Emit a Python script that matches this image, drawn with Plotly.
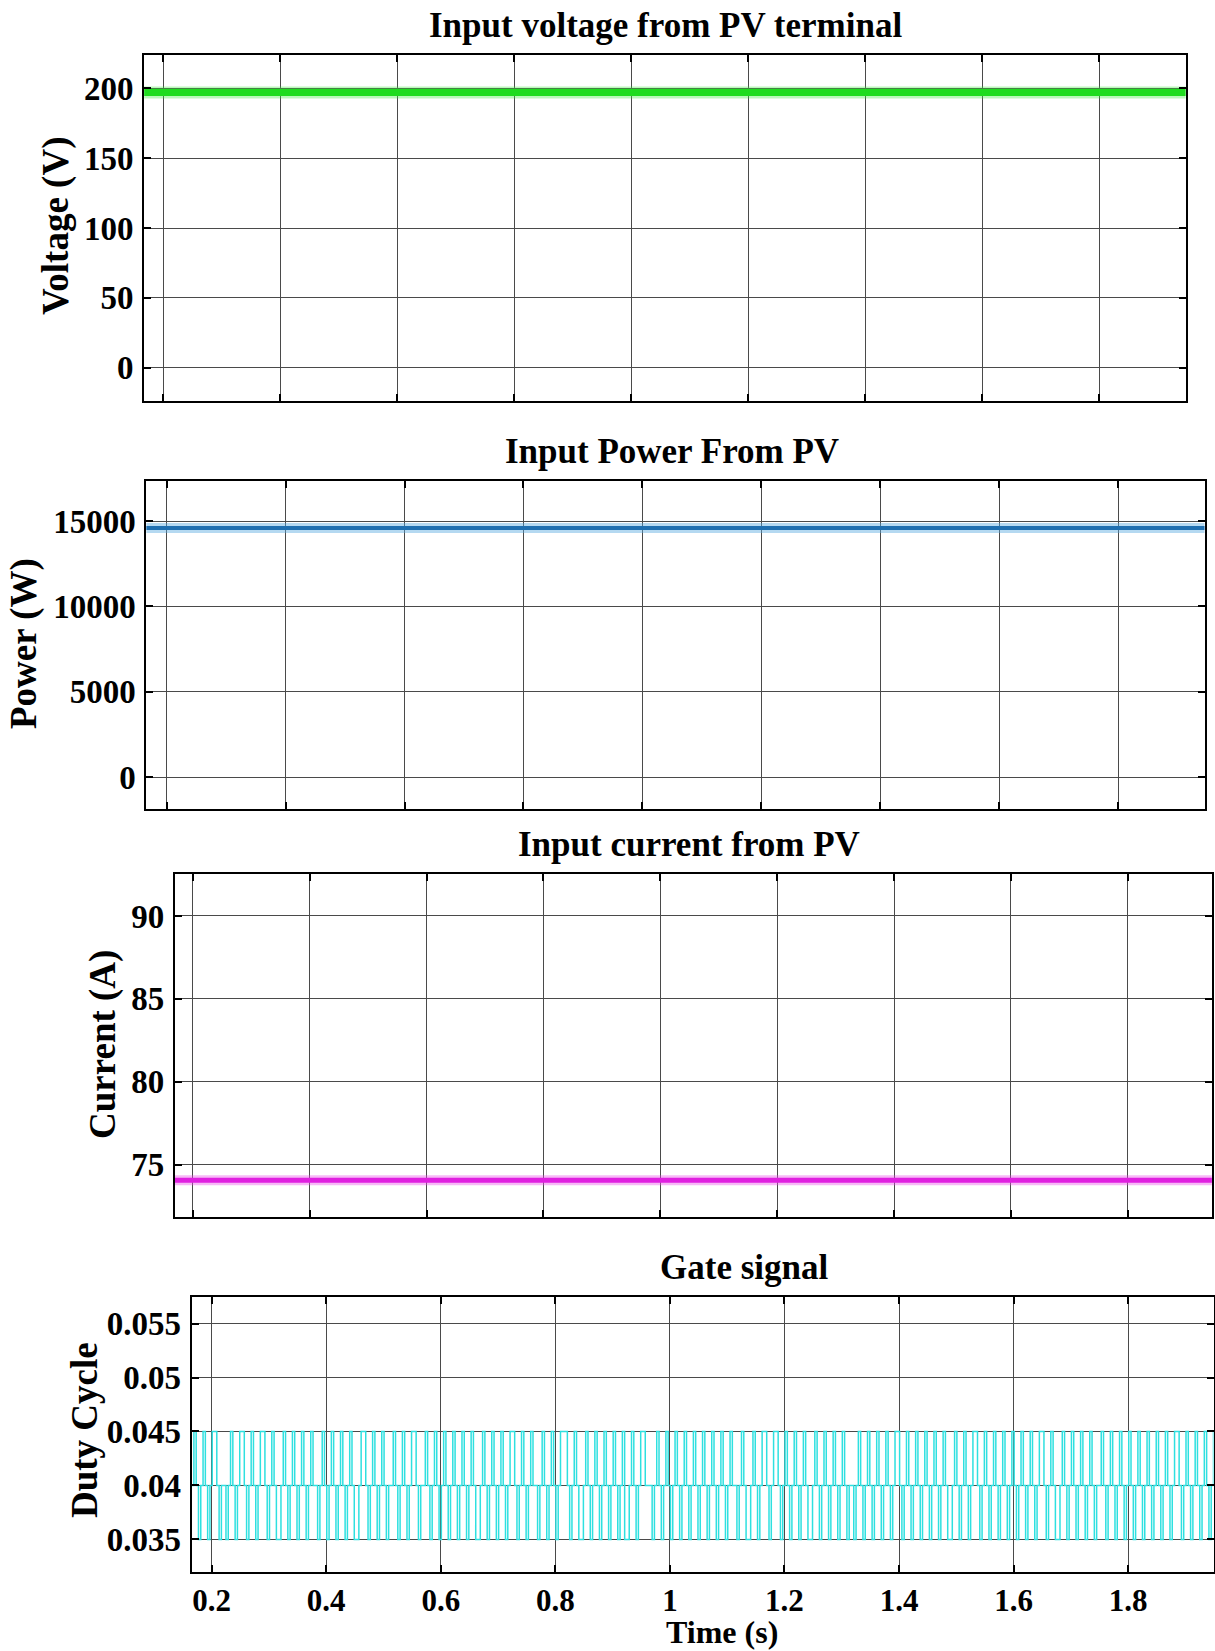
import plotly.graph_objects as go

# ---- data -------------------------------------------------------------
t_span = [0.165, 1.95]                      # simulation window (s)
pv_voltage = [197.0, 197.0]                 # V
pv_power = [14600.0, 14600.0]               # W
pv_current = [74.05, 74.05]                 # A

# duty-cycle levels sampled every gate_dt seconds (0 -> 0.035, 1 -> 0.04, 2 -> 0.045)
gate_t0 = 0.165
gate_dt = 0.004
duty_levels = [0.035, 0.04, 0.045]
gate_codes = [
    "12101210122101101210122101210122101210012101210121",
    "01211012101210121012100122101210121011210121012210",
    "11210121012101210121012100121012101210122101210121",
    "10121012101222101210012101210121012101200121012211",
    "10121012101210121012101210121012101211012100121012",
    "21012210121012101210012101210121012101101210121012",
    "10121012210121012101210121012100121012101221012101",
    "21012101210121012101221012100121012101210121011210",
    "12101210121012101210121012101221012101210121012101",
]

x_ticks = [0.2, 0.4, 0.6, 0.8, 1.0, 1.2, 1.4, 1.6, 1.8]
x_tick_text = ["0.2", "0.4", "0.6", "0.8", "1", "1.2", "1.4", "1.6", "1.8"]

v_ticks = [0, 50, 100, 150, 200]
p_ticks = [0, 5000, 10000, 15000]
i_ticks = [75, 80, 85, 90]
d_ticks = [0.035, 0.04, 0.045, 0.05, 0.055]
d_tick_text = ["0.035", "0.04", "0.045", "0.05", "0.055"]

# ---- build gate trace from the coded level string ----------------------
codes = "".join(gate_codes)
gate_t = [gate_t0 + k * gate_dt for k in range(len(codes))]
gate_d = [duty_levels[int(c)] for c in codes]

FONT = "Liberation Serif, Times New Roman, serif"
W, H = 1215, 1651

fig = go.Figure()

# Input voltage (green band)
fig.add_trace(go.Scatter(x=t_span, y=pv_voltage, mode="lines",
                         line=dict(color="rgba(60,235,60,0.35)", width=12),
                         xaxis="x", yaxis="y", hoverinfo="skip"))
fig.add_trace(go.Scatter(x=t_span, y=pv_voltage, mode="lines",
                         line=dict(color="#1fdc1f", width=7),
                         xaxis="x", yaxis="y"))
# Input power (blue band)
fig.add_trace(go.Scatter(x=t_span, y=pv_power, mode="lines",
                         line=dict(color="rgba(90,170,225,0.45)", width=10),
                         xaxis="x2", yaxis="y2", hoverinfo="skip"))
fig.add_trace(go.Scatter(x=t_span, y=pv_power, mode="lines",
                         line=dict(color="#1f6fb0", width=4),
                         xaxis="x2", yaxis="y2"))
# Input current (magenta band)
fig.add_trace(go.Scatter(x=t_span, y=pv_current, mode="lines",
                         line=dict(color="rgba(235,80,235,0.4)", width=10),
                         xaxis="x3", yaxis="y3", hoverinfo="skip"))
fig.add_trace(go.Scatter(x=t_span, y=pv_current, mode="lines",
                         line=dict(color="#e020e0", width=5),
                         xaxis="x3", yaxis="y3"))
# Gate signal (duty cycle steps)
fig.add_trace(go.Scatter(x=gate_t, y=gate_d, mode="lines",
                         line=dict(color="#2ee0e0", width=1.5, shape="hv"),
                         xaxis="x4", yaxis="y4"))

# ---- axes ---------------------------------------------------------------
def px_x(a, b):
    return [a / W, b / W]

def px_y(top, bottom):
    return [1 - bottom / H, 1 - top / H]

def tick_font(size):
    return dict(family=FONT, size=size, color="black", weight="bold")

common = dict(showline=True, linecolor="black", linewidth=2, mirror="allticks",
              ticks="inside", ticklen=7, tickwidth=2, tickcolor="black",
              showgrid=True, gridcolor="#4a4a4a", gridwidth=1, zeroline=False)

panels = [
    dict(x=px_x(144.2, 1185.6), y=px_y(54.8, 401.2), xr=[0.1676, 1.9476],
         yr=[-24, 224], yt=v_ticks, ytt=[str(v) for v in v_ticks]),
    dict(x=px_x(146.4, 1204.5), y=px_y(481.2, 808.6), xr=[0.166, 1.945],
         yr=[-1852, 17346], yt=p_ticks, ytt=[str(v) for v in p_ticks]),
    dict(x=px_x(174.8, 1211.9), y=px_y(873.9, 1217.2), xr=[0.169, 1.944],
         yr=[71.82, 92.54], yt=i_ticks, ytt=[str(v) for v in i_ticks]),
    dict(x=px_x(191.6, 1213.5), y=px_y(1297.2, 1572.0), xr=[0.165, 1.949],
         yr=[0.03198, 0.05744], yt=d_ticks, ytt=d_tick_text),
]

layout = dict(width=W, height=H, margin=dict(l=0, r=0, t=0, b=0),
              paper_bgcolor="white", plot_bgcolor="white", showlegend=False)

for i, p in enumerate(panels, start=1):
    xs = "" if i == 1 else str(i)
    last = i == len(panels)
    layout["xaxis" + xs] = dict(common, domain=p["x"], range=p["xr"],
                                anchor="y" + xs, tickvals=x_ticks,
                                ticktext=x_tick_text, showticklabels=last,
                                ticklabelstandoff=0, tickfont=tick_font(31))
    layout["yaxis" + xs] = dict(common, domain=p["y"], range=p["yr"],
                                anchor="x" + xs, tickvals=p["yt"],
                                ticktext=p["ytt"], ticklabelstandoff=2,
                                tickfont=tick_font(33))

fig.update_layout(**layout)

# ---- titles and axis labels ----------------------------------------------
def label(text, x, y, size, angle=0):
    fig.add_annotation(text=text, x=x / W, y=1 - y / H, xref="paper", yref="paper",
                       xanchor="center", yanchor="middle", showarrow=False,
                       textangle=angle,
                       font=dict(family=FONT, size=size, color="black", weight="bold"))

label("Input voltage from PV terminal", 665.4, 25.3, 35)
label("Input Power From PV", 672.3, 451.7, 35)
label("Input current from PV", 689.1, 844.4, 35)
label("Gate signal", 744.4, 1267.7, 35)

label("Voltage (V)", 56, 226, 37, -90)
label("Power (W)", 24, 644, 37, -90)
label("Current (A)", 103, 1045, 37, -90)
label("Duty Cycle", 84, 1430, 37, -90)
label("Time (s)", 722, 1632, 32)

fig.write_html("out.html")
